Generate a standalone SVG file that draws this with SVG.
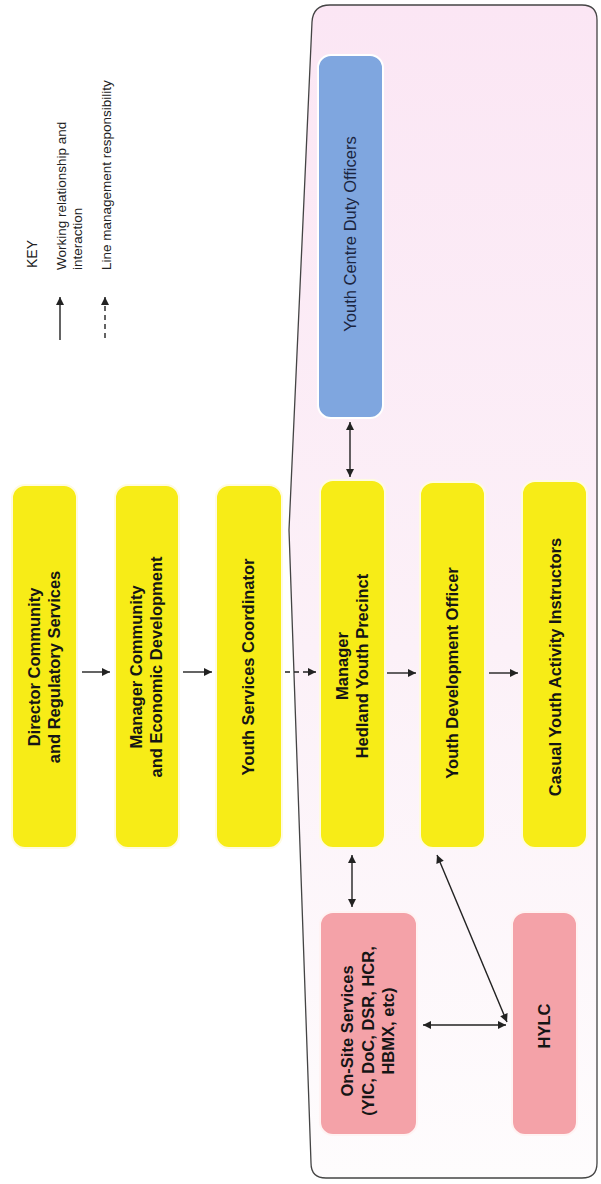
<svg xmlns="http://www.w3.org/2000/svg" width="601" height="1184" viewBox="0 0 601 1184">
<defs>
<linearGradient id="bg" x1="0" y1="0" x2="0" y2="1">
<stop offset="0" stop-color="#fbe6f4"/>
<stop offset="0.55" stop-color="#fcf1f8"/>
<stop offset="1" stop-color="#fefcfd"/>
</linearGradient>
<marker id="ah" viewBox="0 0 10 10" refX="10" refY="5" markerWidth="9" markerHeight="8" markerUnits="userSpaceOnUse" orient="auto-start-reverse">
<path d="M0,0 L10,5 L0,10 z" fill="#222"/>
</marker>
<style>
.y{fill:#f7ec17;stroke:#fffbe0;stroke-width:2}
.b{fill:#7fa6df;stroke:#ffffff;stroke-width:2}
.p{fill:#f4a2a8;stroke:#fff3f3;stroke-width:2}
.t{font-family:"Liberation Sans",Arial,sans-serif;font-weight:bold;font-size:16.5px;fill:#151515;text-anchor:middle}
.tn{font-family:"Liberation Sans",Arial,sans-serif;font-size:16.5px;fill:#1b2540;text-anchor:middle}
.k{font-family:"Liberation Sans",Arial,sans-serif;font-size:13.5px;fill:#222}
.c{stroke:#222;stroke-width:1.4;fill:none}
.d{stroke-dasharray:5 4}
</style>
</defs>
<rect x="0" y="0" width="601" height="1184" fill="#ffffff"/>
<path id="container" d="M330,5 L582,5 Q597,5 597,20 L597,1163 Q597,1178 582,1178 L326,1178 Q311,1178 311,1163 L289,530 L312,22 Q313,5 330,5 Z" fill="url(#bg)" stroke="#444" stroke-width="1.3"/>

<g id="key">
<text class="k" transform="translate(37,268) rotate(-90)" style="font-size:14px">KEY</text>
<text class="k" transform="translate(66,270) rotate(-90)">Working relationship and</text>
<text class="k" transform="translate(82,270) rotate(-90)">interaction</text>
<text class="k" transform="translate(111,270) rotate(-90)">Line management responsibility</text>
<line class="c" x1="60" y1="340" x2="60" y2="297" marker-end="url(#ah)"/>
<line class="c d" x1="105" y1="338" x2="105" y2="297" marker-end="url(#ah)"/>
</g>

<g id="director">
<rect class="y" x="12" y="485" width="65" height="363" rx="13"/>
<text class="t" transform="translate(40,667) rotate(-90)">Director Community</text>
<text class="t" transform="translate(60,667) rotate(-90)">and Regulatory Services</text>
</g>
<g id="manager-ced">
<rect class="y" x="115" y="485" width="64" height="363" rx="13"/>
<text class="t" transform="translate(142,667) rotate(-90)">Manager Community</text>
<text class="t" transform="translate(162,667) rotate(-90)">and Economic Development</text>
</g>
<g id="ysc">
<rect class="y" x="216" y="485" width="66" height="363" rx="13"/>
<text class="t" transform="translate(254,667) rotate(-90)">Youth Services Coordinator</text>
</g>
<g id="manager-hyp">
<rect class="y" x="320" y="480" width="65" height="368" rx="13"/>
<text class="t" transform="translate(348,666) rotate(-90)">Manager</text>
<text class="t" transform="translate(368,666) rotate(-90)">Hedland Youth Precinct</text>
</g>
<g id="ydo">
<rect class="y" x="420" y="482" width="65" height="366" rx="13"/>
<text class="t" transform="translate(458,673) rotate(-90)">Youth Development Officer</text>
</g>
<g id="casual">
<rect class="y" x="522" y="481" width="65" height="367" rx="13"/>
<text class="t" transform="translate(561,667) rotate(-90)">Casual Youth Activity Instructors</text>
</g>
<g id="duty-officers">
<rect class="b" x="318" y="55" width="65" height="363" rx="13"/>
<text class="tn" transform="translate(356,234) rotate(-90)">Youth Centre Duty Officers</text>
</g>
<g id="onsite">
<rect class="p" x="320" y="912" width="97" height="223" rx="13"/>
<text class="t" transform="translate(353,1031) rotate(-90)">On-Site Services</text>
<text class="t" transform="translate(374,1031) rotate(-90)">(YIC, DoC, DSR, HCR,</text>
<text class="t" transform="translate(394,1031) rotate(-90)">HBMX, etc)</text>
</g>
<g id="hylc">
<rect class="p" x="512" y="912" width="65" height="223" rx="13"/>
<text class="t" transform="translate(550,1026) rotate(-90)">HYLC</text>
</g>

<g id="connectors">
<line class="c" x1="82" y1="672" x2="110" y2="672" marker-end="url(#ah)"/>
<line class="c" x1="183" y1="672" x2="212" y2="672" marker-end="url(#ah)"/>
<line class="c d" x1="285" y1="672" x2="316" y2="672" marker-end="url(#ah)"/>
<line class="c" x1="387" y1="673" x2="416" y2="673" marker-end="url(#ah)"/>
<line class="c" x1="489" y1="673" x2="518" y2="673" marker-end="url(#ah)"/>
<line class="c" x1="350" y1="422" x2="350" y2="477" marker-start="url(#ah)" marker-end="url(#ah)"/>
<line class="c" x1="352" y1="855" x2="352" y2="907" marker-start="url(#ah)" marker-end="url(#ah)"/>
<line class="c" x1="437" y1="855" x2="507" y2="1022" marker-start="url(#ah)" marker-end="url(#ah)"/>
<line class="c" x1="423" y1="1025" x2="506" y2="1025" marker-start="url(#ah)" marker-end="url(#ah)"/>
</g>
</svg>
